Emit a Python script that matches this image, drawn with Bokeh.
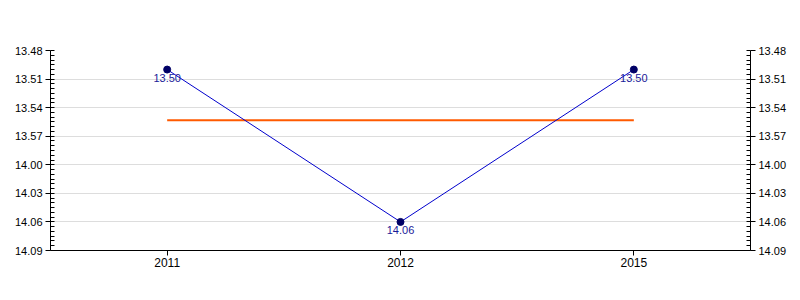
from bokeh.plotting import figure
from bokeh.models import Range1d, FactorRange, FixedTicker, LinearAxis, ColumnDataSource
from bokeh.embed import file_html
from bokeh.resources import INLINE

years = ["2011", "2012", "2015"]
times = ["13.50", "14.06", "13.50"]
tick_labels = ["13.48", "13.51", "13.54", "13.57", "14.00", "14.03", "14.06", "14.09"]


def to_sec(s):
    m, sec = s.split(".")
    return int(m) * 60 + int(sec)


secs = [to_sec(t) for t in times]
tick_secs = [to_sec(t) for t in tick_labels]
avg = sum(secs) / len(secs)
minor = [tick_secs[0] + i * 0.5 for i in range(int((tick_secs[-1] - tick_secs[0]) * 2) + 1)]

FONT = "Liberation Sans"

p = figure(width=800, height=300, output_backend="svg", toolbar_location=None,
           x_range=FactorRange(factors=years),
           y_range=Range1d(start=tick_secs[-1], end=tick_secs[0]),
           min_border_left=50, min_border_right=50, min_border_top=50, min_border_bottom=50,
           y_axis_location="left")
p.outline_line_color = None
p.background_fill_color = "white"
p.border_fill_color = "white"

ticker = FixedTicker(ticks=tick_secs, minor_ticks=minor)
overrides = {t: l for t, l in zip(tick_secs, tick_labels)}


def style_y(ax):
    ax.ticker = ticker
    ax.major_label_overrides = overrides
    ax.major_tick_out = 5
    ax.major_tick_in = 0
    ax.minor_tick_in = 4
    ax.minor_tick_out = 0
    ax.axis_line_color = "black"
    ax.major_label_text_font = FONT
    ax.major_label_text_font_size = "11px"
    ax.major_label_text_color = "black"
    ax.major_label_standoff = 3


style_y(p.yaxis[0])
ra = LinearAxis()
style_y(ra)
p.add_layout(ra, "right")

xa = p.xaxis[0]
xa.major_tick_out = 5
xa.major_tick_in = 0
xa.major_label_text_font = FONT
xa.major_label_text_font_size = "12px"
xa.major_label_text_color = "black"
xa.major_label_standoff = 2

p.xgrid.grid_line_color = None
p.ygrid.ticker = ticker
p.ygrid.grid_line_color = "#dddddd"

src = ColumnDataSource(dict(x=years, y=secs, t=times))
p.line(x=[years[0], years[-1]], y=[avg, avg], line_color="#ff5a00", line_width=2)
p.line("x", "y", source=src, line_color="#0000cc", line_width=1)
p.scatter("x", "y", source=src, size=7, fill_color="#000066", line_color="#000066")
p.text("x", "y", text="t", source=src, text_align="center", text_baseline="top",
       y_offset=4, text_font_size="11px", text_font={"value": FONT}, text_color="#1a1a99")

open("out.html", "w").write(file_html(p, INLINE))
